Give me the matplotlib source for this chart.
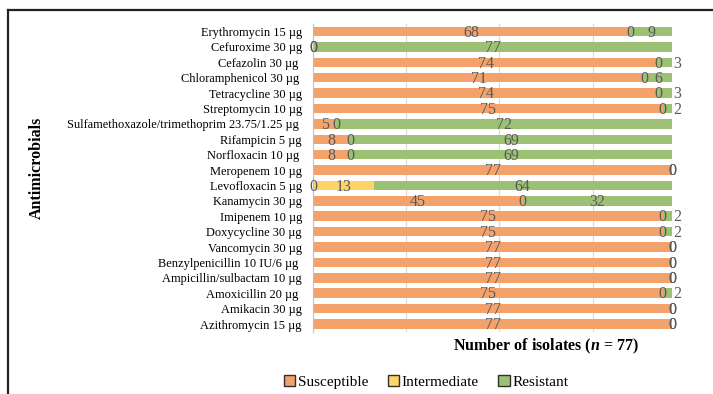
import numpy as np
import matplotlib.pyplot as plt
from matplotlib.lines import Line2D
from matplotlib.patches import Patch

plt.rcParams['font.family'] = ['Liberation Serif', 'DejaVu Serif']
plt.rcParams['mathtext.fontset'] = 'custom'
plt.rcParams['mathtext.it'] = 'Liberation Serif:italic:bold'
plt.rcParams['mathtext.rm'] = 'Liberation Serif:bold'

# antimicrobials, top to bottom
drugs = [
    "Erythromycin 15 µg",
    "Cefuroxime 30 µg",
    "Cefazolin 30 µg ",
    "Chloramphenicol 30 µg ",
    "Tetracycline 30 µg",
    "Streptomycin 10 µg",
    "Sulfamethoxazole/trimethoprim 23.75/1.25 µg ",
    "Rifampicin 5 µg",
    "Norfloxacin 10 µg ",
    "Meropenem 10 µg",
    "Levofloxacin 5 µg",
    "Kanamycin 30 µg",
    "Imipenem 10 µg",
    "Doxycycline 30 µg",
    "Vancomycin 30 µg",
    "Benzylpenicillin 10 IU/6 µg ",
    "Ampicillin/sulbactam 10 µg",
    "Amoxicillin 20 µg ",
    "Amikacin 30 µg",
    "Azithromycin 15 µg",
]
susceptible = [68, 0, 74, 71, 74, 75, 5, 8, 8, 77, 0, 45, 75, 75, 77, 77, 77, 75, 77, 77]
intermediate = [0, 0, 0, 0, 0, 0, 0, 0, 0, 0, 13, 0, 0, 0, 0, 0, 0, 0, 0, 0]
resistant = [9, 77, 3, 6, 3, 2, 72, 69, 69, 0, 64, 32, 2, 2, 0, 0, 0, 2, 0, 0]

series = [("Susceptible", susceptible, "#F3A26B"),
          ("Intermediate", intermediate, "#FFD466"),
          ("Resistant", resistant, "#9DC174")]

fig = plt.figure(figsize=(7.13, 3.94), dpi=100)
ax = fig.add_axes([0.439, 0.158, 0.5035, 0.7816])

y = np.arange(len(drugs))
left = np.zeros(len(drugs))
for name, vals, color in series:
    vals = np.array(vals, dtype=float)
    ax.barh(y, vals, left=left, height=0.62, color=color, zorder=2)
    for yi, (l, v) in enumerate(zip(left, vals)):
        x = l + v / 2
        if 0 < v <= 3:
            x = l + v + 1.2
        ax.text(x, yi + 0.08, f"{int(v)}", ha="center", va="center",
                fontsize=11.5, color="#595959", zorder=3)
    left += vals

ax.set_xlim(0, 77)
ax.set_ylim(len(drugs) - 0.5, -0.5)
ax.set_xticks([0, 20, 40, 60])
ax.set_xticklabels([])
ax.set_yticks(y)
ax.set_yticklabels(drugs, fontsize=8.9)
ax.tick_params(axis="both", length=0)
ax.tick_params(axis="y", pad=8)
ax.grid(axis="x", color="#D9D9D9", linewidth=0.8, zorder=0)
for s in ["top", "right", "bottom"]:
    ax.spines[s].set_visible(False)
ax.spines["left"].set_color("#BFBFBF")

fig.text(546 / 713, 1 - 346 / 394, r"Number of isolates ($n$ = 77)",
         ha="center", va="center", fontsize=11.5, fontweight="bold")
fig.text(37 / 713, 1 - 168 / 394, "Antimicrobials", rotation=90,
         ha="center", va="center", fontsize=11.5, fontweight="bold")

handles = [Patch(facecolor=c, edgecolor="#303030", linewidth=1.0) for _, _, c in series]
fig.legend(handles, [n for n, _, _ in series], loc="center",
           bbox_to_anchor=(426 / 713, 1 - 382 / 394), ncol=3, frameon=False,
           fontsize=11, handlelength=0.75, handleheight=0.75,
           handletextpad=0.15, columnspacing=1.3)

# outer frame
fig.add_artist(Line2D([8 / 713, 1], [1 - 10 / 394] * 2, color="#222222", lw=1.6))
fig.add_artist(Line2D([8 / 713] * 2, [0, 1 - 10 / 394], color="#222222", lw=1.6))

fig.savefig("out.png", dpi=100)
